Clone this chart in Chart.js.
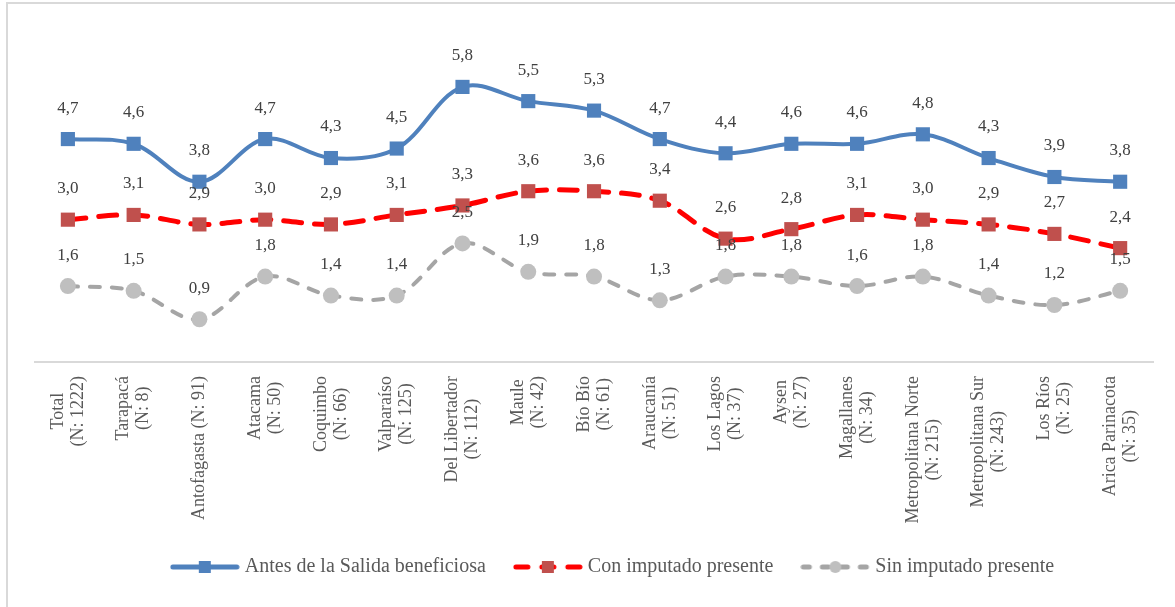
<!DOCTYPE html>
<html>
<head>
<meta charset="utf-8">
<script src="https://cdn.jsdelivr.net/npm/chart.js@4/dist/chart.umd.min.js"></script>
<style>
  body { margin: 0; background: #fff; }
  #wrap { width: 1175px; height: 607px; position: relative; }
</style>
</head>
<body>
<div id="wrap"><canvas id="chart"></canvas></div>
<script>
// categories (two-line labels)
const regions = [
    ['Total', '(N: 1222)'], ['Tarapacá', '(N: 8)'], ['Antofagasta (N: 91)'],
    ['Atacama', '(N: 50)'], ['Coquimbo', '(N: 66)'], ['Valparaíso', '(N: 125)'],
    ['Del Libertador', '(N: 112)'], ['Maule', '(N: 42)'], ['Bío Bío', '(N: 61)'],
    ['Araucanía', '(N: 51)'], ['Los Lagos', '(N: 37)'], ['Aysen', '(N: 27)'],
    ['Magallanes', '(N: 34)'], ['Metropolitana Norte', '(N: 215)'],
    ['Metropolitana Sur', '(N: 243)'], ['Los Ríos', '(N: 25)'], ['Arica Parinacota', '(N: 35)']
]

// series
const antes = [4.7, 4.6, 3.8, 4.7, 4.3, 4.5, 5.8, 5.5, 5.3, 4.7, 4.4, 4.6, 4.6, 4.8, 4.3, 3.9, 3.8]
const conImputado = [3.0, 3.1, 2.9, 3.0, 2.9, 3.1, 3.3, 3.6, 3.6, 3.4, 2.6, 2.8, 3.1, 3.0, 2.9, 2.7, 2.4]
const sinImputado = [1.6, 1.5, 0.9, 1.8, 1.4, 1.4, 2.5, 1.9, 1.8, 1.3, 1.8, 1.8, 1.6, 1.8, 1.4, 1.2, 1.5]

const serif = "'Liberation Serif', 'DejaVu Serif', serif"

// legend swatch: line + marker in the middle
function swatch(lineColor, markColor, dash, shape) {
    const c = document.createElement('canvas')
    c.width = 70; c.height = 16
    const g = c.getContext('2d')
    g.strokeStyle = lineColor
    g.lineWidth = 5
    g.lineCap = 'round'
    g.setLineDash(dash)
    g.beginPath(); g.moveTo(3, 8); g.lineTo(67, 8); g.stroke()
    g.fillStyle = markColor
    if (shape == 'circle') {
        g.beginPath(); g.arc(35, 8, 6, 0, Math.PI * 2); g.fill()
    } else {
        g.fillRect(29, 2, 12, 12)
    }
    return c
}

const swatches = [
    swatch('#4F81BD', '#4F81BD', [], 'rect'),
    swatch('#FF0000', '#C0504D', [12, 14], 'rect'),
    swatch('#A5A5A5', '#BFBFBF', [6, 13], 'circle')
]

// thin frame on the top and left edges
const frame = {
    id: 'frame',
    beforeDraw(chart) {
        const ctx = chart.ctx
        ctx.save()
        ctx.strokeStyle = '#D9D9D9'
        ctx.lineWidth = 2
        ctx.beginPath()
        ctx.moveTo(7, chart.height)
        ctx.lineTo(7, 3)
        ctx.lineTo(chart.width, 3)
        ctx.stroke()
        ctx.restore()
    },
    afterLayout(chart) {
        // legend sits a little right of centre in the original
        chart.legend.left += 17
        chart.legend.right += 17
    }
}

// value labels above the points
const valueLabels = {
    id: 'valueLabels',
    afterDatasetsDraw(chart) {
        const ctx = chart.ctx
        ctx.save()
        ctx.font = '17px ' + serif
        ctx.fillStyle = '#404040'
        ctx.textAlign = 'center'
        ctx.textBaseline = 'middle'
        chart.data.datasets.forEach((ds, i) => {
            chart.getDatasetMeta(i).data.forEach((pt, j) => {
                ctx.fillText(ds.data[j].toFixed(1).replace('.', ','), pt.x, pt.y - 31)
            })
        })
        ctx.restore()
    }
}

// rotated category labels, lines centred on each other
const xLabels = {
    id: 'xLabels',
    afterDraw(chart) {
        const ctx = chart.ctx
        const xs = chart.scales.x
        ctx.save()
        ctx.font = '18px ' + serif
        ctx.fillStyle = '#595959'
        ctx.textAlign = 'center'
        ctx.textBaseline = 'middle'
        regions.forEach((lines, i) => {
            const maxW = Math.max(...lines.map(l => ctx.measureText(l).width))
            const x = xs.getPixelForValue(i)
            const y = xs.top + 14 + maxW / 2
            ctx.save()
            ctx.translate(x, y)
            ctx.rotate(-Math.PI / 2)
            lines.forEach((l, k) => {
                ctx.fillText(l, 0, (k - (lines.length - 1) / 2) * 20)
            })
            ctx.restore()
        })
        ctx.restore()
    }
}

const canvas = document.getElementById('chart')
const myChart = new Chart(canvas, {
    type: 'line',
    data: {
        labels: regions,
        datasets: [
            {
                label: 'Antes de la Salida beneficiosa',
                data: antes,
                borderColor: '#4F81BD',
                backgroundColor: '#4F81BD',
                borderWidth: 4,
                pointStyle: 'rect',
                pointRadius: 10,
                pointBorderWidth: 0,
                tension: 0.35
            },
            {
                label: 'Con imputado presente',
                data: conImputado,
                borderColor: '#FF0000',
                backgroundColor: '#C0504D',
                borderWidth: 5,
                borderDash: [18, 13],
                borderCapStyle: 'round',
                pointStyle: 'rect',
                pointRadius: 10,
                pointBorderWidth: 0,
                tension: 0.35
            },
            {
                label: 'Sin imputado presente',
                data: sinImputado,
                borderColor: '#A5A5A5',
                backgroundColor: '#BFBFBF',
                borderWidth: 4,
                borderDash: [10, 12],
                borderCapStyle: 'round',
                pointStyle: 'circle',
                pointRadius: 8,
                pointBorderWidth: 0,
                tension: 0.35
            }
        ]
    },
    options: {
        responsive: true,
        maintainAspectRatio: false,
        animation: false,
        layout: { padding: { left: 35, right: 15, top: 30, bottom: 20 } },
        scales: {
            x: {
                offset: true,
                grid: { display: false, drawTicks: false },
                border: { color: '#D9D9D9', width: 2 },
                ticks: {
                    minRotation: 90,
                    maxRotation: 90,
                    padding: 16,
                    color: 'transparent',
                    font: { size: 16, family: serif }
                }
            },
            y: {
                display: false,
                min: 0,
                max: 7
            }
        },
        plugins: {
            tooltip: { enabled: false },
            legend: {
                position: 'bottom',
                labels: {
                    usePointStyle: true,
                    pointStyleWidth: 60,
                    padding: 32,
                    color: '#595959',
                    font: { size: 20, family: serif },
                    generateLabels(chart) {
                        return chart.data.datasets.map((ds, i) => ({
                            text: ds.label,
                            pointStyle: swatches[i],
                            fillStyle: 'transparent',
                            strokeStyle: 'transparent',
                            lineWidth: 0,
                            fontColor: '#595959',
                            datasetIndex: i
                        }))
                    }
                }
            }
        }
    },
    plugins: [frame, valueLabels, xLabels]
})
</script>
</body>
</html>
